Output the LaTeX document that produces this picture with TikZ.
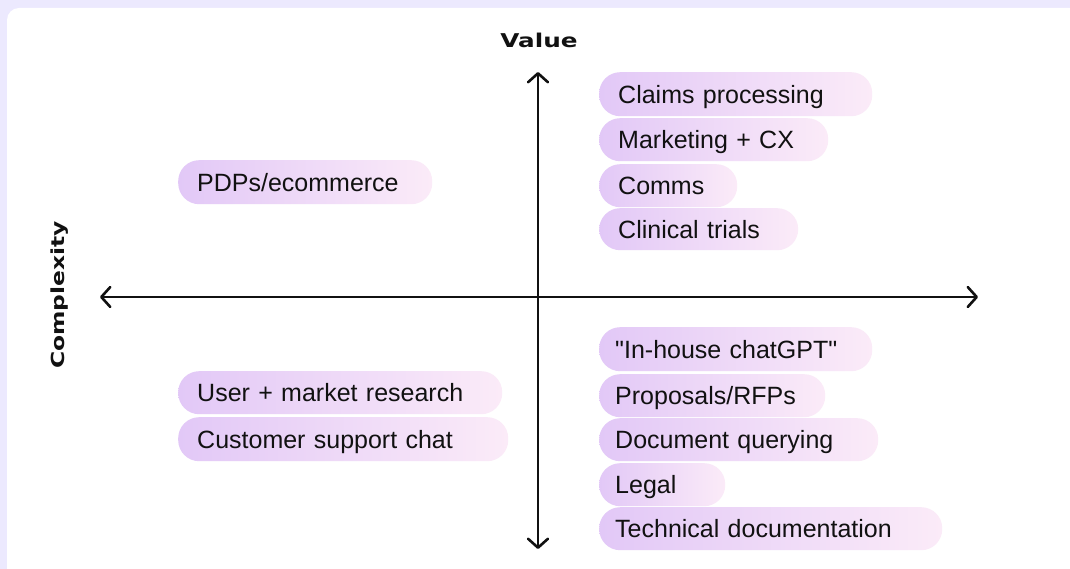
\documentclass[tikz,border=0pt]{standalone}
\usepackage{fontspec}
\setmainfont{Liberation Sans}[Ligatures=TeXOff]
\newfontfamily\axisfont{DejaVu Sans}[FakeStretch=1.3]
\usetikzlibrary{arrows.meta}
\definecolor{bgcol}{HTML}{ECE9FE}
\definecolor{pillL}{HTML}{E2C8F7}
\definecolor{pillR}{HTML}{FBEBF8}
\definecolor{ink}{HTML}{111111}
\tikzset{
  pill/.style={rounded corners=21pt, left color=pillL, right color=pillR, draw=none,
    minimum height=#1, anchor=north west, inner ysep=0pt, align=left,
    text height=18pt, text depth=0pt,
    font=\fontsize{25}{28}\selectfont, text=ink},
  pill/.default=44pt,
  axisline/.style={line width=2.6pt, draw=ink, {Straight Barb[length=9pt,width=20pt,line cap=round,line join=round]}-{Straight Barb[length=9pt,width=20pt,line cap=round,line join=round]}},
  axislabel/.style={font=\axisfont\bfseries\fontsize{19}{22}\selectfont, text=ink, inner sep=0pt}
}
\newcommand{\pillnode}[7]{% name, x0, y0, x1, y1, textx, text
  \pgfmathsetmacro{\pw}{#4-#2}\pgfmathsetmacro{\ph}{#5-#3}\pgfmathsetmacro{\pad}{#6-#2}%
  \pgfmathsetmacro{\tw}{\pw-2*\pad}%
  \node[pill=\ph pt, inner xsep=\pad pt, text width=\tw pt] (#1) at (#2,#3) {#7};}
\begin{document}
\begin{tikzpicture}[x=1pt,y=-1pt]
\useasboundingbox (0,0) rectangle (1070,569);
\begin{scope}
\clip (0,0) rectangle (1070,569);
\fill[bgcol] (0,0) rectangle (1070,569);
\fill[white, rounded corners=12pt] (7,8) rectangle (1100,600);
\end{scope}
% axes
\coordinate (top) at (538,72);
\coordinate (bottom) at (538,549);
\coordinate (left) at (100,297);
\coordinate (right) at (978,297);
\draw[axisline] (bottom) -- (top);
\draw[axisline] (left) -- (right);
\node[axislabel] (value) at (539,40) {Value};
\node[axislabel, font=\axisfont\bfseries\fontsize{18}{22}\selectfont, rotate=90] (complexity) at (60,295) {Complexity};
% pills top right
\pillnode{p1}{599}{72}{872}{116}{618}{Claims processing}
\pillnode{p2}{599}{118}{828}{161}{618}{Marketing + CX}
\pillnode{p3}{599}{164}{737}{207}{618}{Comms}
\pillnode{p4}{599}{208}{798}{250}{618}{Clinical trials}
% top left
\pillnode{p5}{178}{160}{432}{204}{197}{PDPs/ecommerce}
% bottom right
\pillnode{p6}{599}{327}{872}{371}{615}{"In-house chatGPT"}
\pillnode{p7}{599}{374}{825}{417}{615}{Proposals/RFPs}
\pillnode{p8}{599}{418}{878}{461}{615}{Document querying}
\pillnode{p9}{599}{463}{725}{506}{615}{Legal}
\pillnode{p10}{599}{507}{942}{550}{615}{Technical documentation}
% bottom left
\pillnode{p11}{178}{371}{502}{414}{197}{User + market research}
\pillnode{p12}{178}{417}{508}{461}{197}{Customer support chat}
\end{tikzpicture}
\end{document}
